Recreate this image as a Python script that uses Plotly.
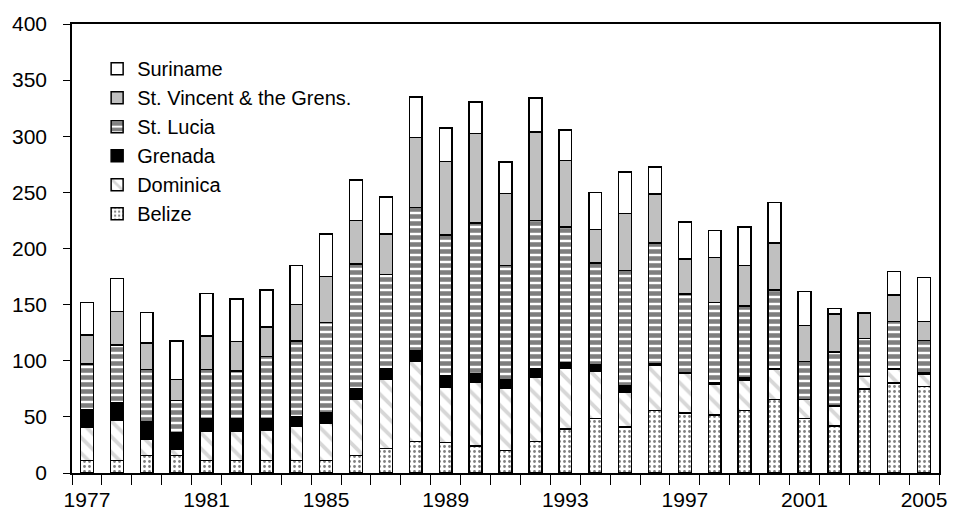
import plotly.graph_objects as go

years = list(range(1977, 2006))
belize   = [11, 11, 15.5, 15.5, 11, 11, 11, 11, 11, 15.5, 21.7, 28, 27, 24, 20, 28, 39, 48.5, 41, 55.7, 53.6, 51.5, 55.7, 65.5, 48.5, 41.7, 75, 80, 77]
dominica = [30, 36, 15, 6, 26, 26, 27.5, 30.5, 33, 50.5, 62, 71.5, 49, 57, 55.5, 57, 54, 42, 30.5, 40, 35, 28, 27, 26.5, 17, 18, 11, 12.5, 11]
grenada  = [15, 15.5, 15.5, 14, 11, 11, 9.5, 9, 9.5, 9, 9, 9, 11, 7.5, 7.5, 7.5, 5.5, 5.5, 6, 2, 1, 0.5, 2, 0.5, 0, 0.3, 0, 0.5, 1]
stlucia  = [41, 51.5, 46, 29, 44, 43, 56, 67, 80.5, 111, 84, 128, 125, 134, 102, 132.5, 120.5, 91, 103, 107, 70, 72, 64, 70.5, 34, 48, 34, 42, 29]
stvincent= [26, 30, 24, 19, 30, 26, 26, 32.5, 41, 39, 36, 62.5, 65.5, 80, 64, 79, 59.5, 30, 50.5, 44, 31, 40, 36, 42, 32, 33.5, 22.5, 23.5, 17]
suriname = [29, 29.5, 27, 34, 38, 38, 33, 35, 38, 36, 33, 36, 30, 28, 28, 30, 27, 33, 37, 24, 33, 24, 34.5, 36, 30, 5, 0, 21, 39]
xtick_years = [1977, 1981, 1985, 1989, 1993, 1997, 2001, 2005]
yticks = [0, 50, 100, 150, 200, 250, 300, 350, 400]

FONT = "Liberation Sans, Arial, sans-serif"
series = [
    ("Belize", belize, dict(color="white", pattern=dict(shape=".", fgcolor="#000000", bgcolor="white", size=5, solidity=0.25))),
    ("Dominica", dominica, dict(color="white", pattern=dict(shape="\\", fgcolor="#b0b0b0", bgcolor="white", size=11, solidity=0.35))),
    ("Grenada", grenada, dict(color="black")),
    ("St. Lucia", stlucia, dict(color="white", pattern=dict(shape="-", fgcolor="#000000", bgcolor="white", size=7, solidity=0.65))),
    ("St. Vincent & the Grens.", stvincent, dict(color="#c0c0c0")),
    ("Suriname", suriname, dict(color="white")),
]

fig = go.Figure()
for name, vals, mk in series:
    mk = dict(mk)
    mk["line"] = dict(color="black", width=1.5)
    fig.add_trace(go.Bar(x=years, y=vals, name=name, marker=mk))

fig.update_layout(
    width=959, height=527,
    barmode="stack", bargap=0.57,
    paper_bgcolor="white", plot_bgcolor="white",
    margin=dict(l=69, r=12, t=24, b=54),
    font=dict(family=FONT, size=21, color="black"),
    showlegend=True,
    legend=dict(x=0.029, y=0.944, xanchor="left", yanchor="top", traceorder="reversed",
                font=dict(family=FONT, size=20), bgcolor="rgba(0,0,0,0)",
                itemwidth=30, tracegroupgap=0),
)
fig.update_xaxes(
    range=[1976.5, 2005.5], tickmode="array", tickvals=xtick_years,
    ticks="outside", ticklen=0, ticklabelstandoff=7,
    showline=True, linecolor="black", linewidth=1.5, mirror=True,
    showgrid=False, zeroline=False,
    minor=dict(ticks="outside", ticklen=10, tick0=1976.5, dtick=1, tickcolor="black", tickwidth=1, showgrid=False),
    tickfont=dict(size=21),
)
fig.update_yaxes(
    range=[0, 400], tickmode="array", tickvals=yticks,
    ticks="outside", ticklen=7, tickcolor="black", ticklabelstandoff=12,
    showline=True, linecolor="black", linewidth=1.5, mirror=True,
    showgrid=False, zeroline=False,
    tickfont=dict(size=21),
)
fig.write_html("out.html", config={"displayModeBar": False},
               post_script="document.body.style.margin='0';document.body.style.overflow='hidden';")
